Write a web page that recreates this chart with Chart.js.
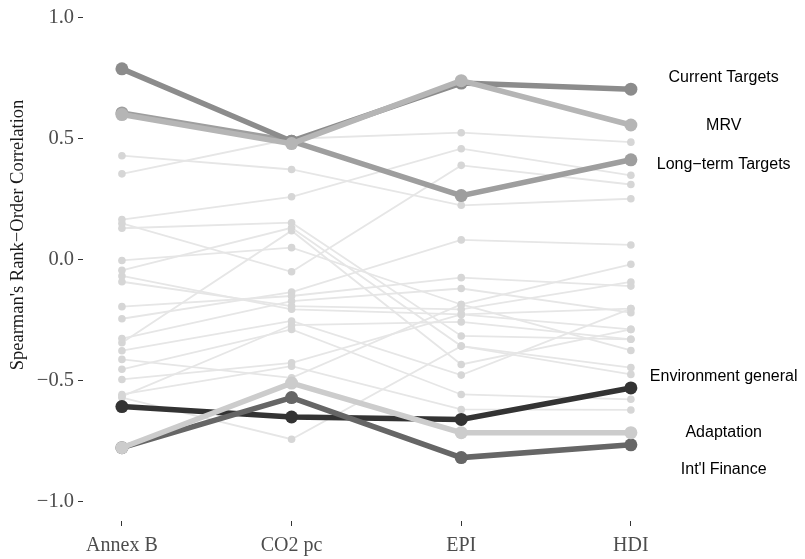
<!DOCTYPE html>
<html>
<head>
<meta charset="utf-8">
<script src="https://cdn.jsdelivr.net/npm/chart.js@4.4.1/dist/chart.umd.min.js"></script>
<style>
  body { margin: 0; background: #fff; }
  #wrap { width: 805px; height: 559px; position: relative; }
</style>
</head>
<body>
<div id="wrap"><canvas id="rankChart"></canvas></div>
<script>
// axes
var categories = ['Annex B', 'CO2 pc', 'EPI', 'HDI'];
var yTicks = [-1.0, -0.5, 0.0, 0.5, 1.0];

// highlighted indicators
var currentTargets     = [0.789, 0.49, 0.73, 0.705];
var mrv                = [0.600, 0.48, 0.74, 0.557];
var longTermTargets    = [0.607, 0.49, 0.265, 0.413];
var environmentGeneral = [-0.607, -0.65, -0.66, -0.53];
var adaptation         = [-0.777, -0.51, -0.715, -0.715];
var intlFinance        = [-0.777, -0.57, -0.818, -0.765];

// all the other indicators (grey background)
var otherIndicators = [
  [0.43, 0.373, 0.225, 0.252],
  [0.355, 0.50, 0.525, 0.486],
  [0.166, 0.26, 0.459, 0.349],
  [0.15, -0.05, 0.39, 0.311],
  [0.13, 0.153, -0.315, -0.329],
  [-0.003, 0.05, -0.185, -0.375],
  [-0.044, 0.132, -0.357, -0.446],
  [-0.067, -0.205, -0.226, -0.288],
  [-0.091, -0.192, -0.205, -0.092],
  [-0.194, -0.15, -0.074, -0.109],
  [-0.244, -0.134, 0.082, 0.061],
  [-0.326, -0.171, -0.119, -0.219],
  [-0.343, 0.12, -0.433, -0.288],
  [-0.376, -0.253, -0.477, -0.202],
  [-0.412, -0.488, -0.185, -0.019],
  [-0.453, -0.288, -0.557, -0.577],
  [-0.495, -0.426, -0.226, -0.202],
  [-0.557, -0.44, -0.619, -0.621],
  [-0.565, -0.27, -0.257, -0.329],
  [-0.57, -0.742, -0.357, -0.474]
];

// right hand labels (text + vertical place in data units)
var labelNames = ['Current Targets', 'MRV', 'Long\u2212term Targets', 'Environment general', 'Adaptation', "Int'l Finance"];
var labelY = [0.752, 0.554, 0.393, -0.483, -0.715, -0.868];

function toPoints(vals) {
  return vals.map(function(v, i) { return { x: i + 1, y: v }; });
}

var datasets = [];
for (var i = 0; i < otherIndicators.length; i++) {
  datasets.push({
    data: toPoints(otherIndicators[i]),
    borderColor: '#e6e6e6',
    backgroundColor: '#d6d6d6',
    borderWidth: 1.8,
    pointRadius: 3.8,
    pointBorderWidth: 0,
    order: 10
  });
}

// drawn bottom -> top
var highlights = [
  { vals: environmentGeneral, col: '#333333', order: 6 },
  { vals: intlFinance,        col: '#666666', order: 5 },
  { vals: longTermTargets,    col: '#9e9e9e', order: 4 },
  { vals: currentTargets,     col: '#8c8c8c', order: 3 },
  { vals: adaptation,         col: '#cccccc', order: 2 },
  { vals: mrv,                col: '#b5b5b5', order: 1 }
];
highlights.forEach(function(h) {
  datasets.push({
    data: toPoints(h.vals),
    borderColor: h.col,
    backgroundColor: h.col,
    borderWidth: 5.5,
    pointRadius: 6.5,
    pointBorderWidth: 0,
    order: h.order
  });
});

var serif = "'Liberation Serif', 'Times New Roman', serif";

var sideLabels = {
  id: 'sideLabels',
  afterDraw: function(chart) {
    var ctx = chart.ctx;
    var xs = chart.scales.x, ys = chart.scales.y;
    ctx.save();
    ctx.fillStyle = '#000';
    ctx.font = "16px 'Liberation Sans', Arial, sans-serif";
    ctx.textAlign = 'center';
    ctx.textBaseline = 'middle';
    var lx = xs.getPixelForValue(4.547);
    for (var i = 0; i < labelNames.length; i++) {
      ctx.fillText(labelNames[i], lx, ys.getPixelForValue(labelY[i]));
    }
    // y axis title
    ctx.translate(18, 235);
    ctx.rotate(-Math.PI / 2);
    ctx.font = '18.5px ' + serif;
    ctx.fillStyle = '#1a1a1a';
    ctx.fillText("Spearman's Rank\u2212Order Correlation", 0, 0);
    ctx.restore();
  }
};

var ctx = document.getElementById('rankChart');
var chart = new Chart(ctx, {
  type: 'line',
  data: { datasets: datasets },
  options: {
    responsive: true,
    maintainAspectRatio: false,
    animation: false,
    layout: { padding: { top: 0, right: 5, bottom: 0, left: 0 } },
    plugins: {
      legend: { display: false },
      tooltip: { enabled: false }
    },
    scales: {
      x: {
        type: 'linear',
        min: 0.7706,
        max: 4.988,
        afterBuildTicks: function(scale) {
          scale.ticks = [1, 2, 3, 4].map(function(v) { return { value: v }; });
        },
        afterFit: function(scale) { scale.height = 38; },
        border: { display: false },
        grid: { drawOnChartArea: false, tickLength: 5, color: '#333333', lineWidth: 1 },
        ticks: {
          padding: 8,
          color: '#4d4d4d',
          font: { family: serif, size: 20 },
          callback: function(v) { return categories[v - 1]; }
        }
      },
      y: {
        type: 'linear',
        min: -1.080,
        max: 1.0062,
        afterBuildTicks: function(scale) {
          scale.ticks = yTicks.map(function(v) { return { value: v }; });
        },
        afterFit: function(scale) { scale.width = 83; },
        border: { display: false },
        grid: { drawOnChartArea: false, tickLength: 5, color: '#333333', lineWidth: 1 },
        ticks: {
          padding: 4,
          color: '#4d4d4d',
          font: { family: serif, size: 20.5 },
          callback: function(v) {
            var s = Math.abs(v).toFixed(1);
            return v < 0 ? '\u2212' + s : s;
          }
        }
      }
    }
  },
  plugins: [sideLabels]
});
</script>
</body>
</html>
